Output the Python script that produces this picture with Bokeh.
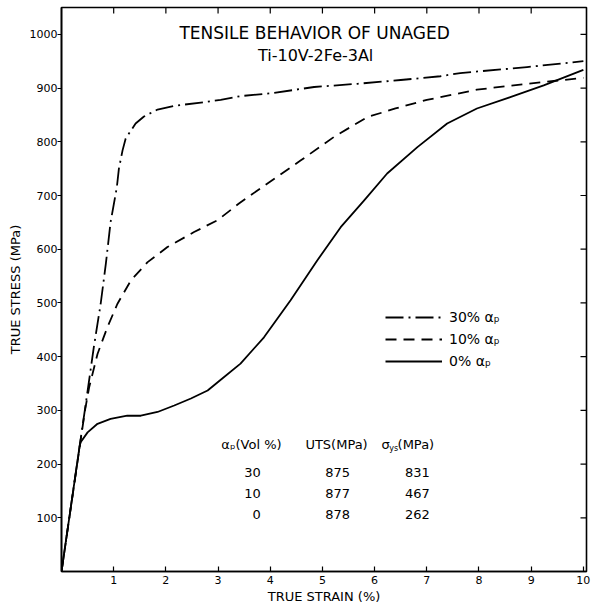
from math import pi
from bokeh.plotting import figure
from bokeh.models import Range1d, FixedTicker, Label, Legend, LegendItem, ColumnDataSource
from bokeh.core.properties import value
from bokeh.embed import file_html
from bokeh.resources import INLINE

# ---- data ----
strain_30 = [0, 0.46, 0.62, 0.75, 0.85, 0.94, 1.06, 1.10, 1.17, 1.23, 1.31, 1.42, 1.58,
             1.84, 2.16, 2.67, 3.05, 3.43, 4.07, 4.84, 5.67, 6.5, 7.26, 7.64, 8.92, 10.0]
stress_30 = [0, 309, 418, 498, 573, 650, 715, 750, 784, 806, 818, 834, 847,
             860, 867, 873, 878, 885, 891, 902, 908, 915, 922, 928, 939, 950]

strain_10 = [0, 0.45, 0.53, 0.69, 0.88, 1.07, 1.33, 1.65, 2.03, 2.54, 2.99, 3.4, 3.94,
             4.58, 5.22, 5.86, 6.4, 7.0, 7.96, 8.92, 10.0]
stress_10 = [0, 300, 343, 405, 455, 498, 542, 576, 604, 632, 654, 685, 722,
             765, 809, 846, 862, 878, 897, 908, 919]

strain_0 = [0, 0.35, 0.37, 0.5, 0.69, 0.94, 1.26, 1.52, 1.84, 2.16, 2.48, 2.8, 3.04,
            3.43, 3.88, 4.39, 4.9, 5.35, 5.8, 6.24, 6.82, 7.39, 7.96, 8.6, 9.24, 10.0]
stress_0 = [0, 235, 241, 259, 275, 284, 290, 290, 297, 309, 322, 337, 356,
            387, 436, 505, 579, 641, 691, 741, 790, 834, 862, 883, 905, 934]

series_labels = ["30% αₚ", "10% αₚ", "0% αₚ"]

x_ticks = [1, 2, 3, 4, 5, 6, 7, 8, 9, 10]
y_ticks = [100, 200, 300, 400, 500, 600, 700, 800, 900, 1000]

alpha_vol = [30, 10, 0]
uts = [875, 877, 878]
sigma_ys = [831, 467, 262]

FONT = "DejaVu Sans"
X_END = 10.06
Y_END = 1050

p = figure(width=593, height=606, output_backend="svg", toolbar_location=None,
           x_range=Range1d(0, X_END), y_range=Range1d(0, Y_END),
           min_border_left=61, min_border_right=7, min_border_top=7, min_border_bottom=35)
p.xgrid.visible = False
p.ygrid.visible = False
p.outline_line_color = "black"
p.outline_line_width = 1.6
p.background_fill_color = "white"
p.border_fill_color = "white"

# axes
p.xaxis.ticker = FixedTicker(ticks=x_ticks)
p.xaxis.major_tick_in = 5
p.xaxis.major_tick_out = 0
p.xaxis.minor_tick_line_color = None
p.xaxis.axis_line_width = 1.6
p.xaxis.major_tick_line_width = 1.2
p.xaxis.major_label_text_font = FONT
p.xaxis.major_label_text_font_size = "11px"
p.xaxis.major_label_text_color = "black"
p.xaxis.major_label_standoff = 4
p.xaxis.axis_label = "TRUE STRAIN (%)"
p.xaxis.axis_label_text_font = FONT
p.xaxis.axis_label_text_font_style = "normal"
p.xaxis.axis_label_text_font_size = "13px"
p.xaxis.axis_label_text_color = "black"
p.xaxis.axis_label_standoff = 2

p.yaxis.ticker = FixedTicker(ticks=y_ticks)
p.yaxis.major_tick_in = 0
p.yaxis.major_tick_out = 4
p.yaxis.minor_tick_line_color = None
p.yaxis.axis_line_width = 1.6
p.yaxis.major_tick_line_width = 1.2
p.yaxis.major_label_text_font = FONT
p.yaxis.major_label_text_font_size = "11px"
p.yaxis.major_label_text_color = "black"
p.yaxis.major_label_standoff = 0
p.yaxis.axis_label = "TRUE STRESS (MPa)"
p.yaxis.axis_label_text_font = FONT
p.yaxis.axis_label_text_font_style = "normal"
p.yaxis.axis_label_text_font_size = "13px"
p.yaxis.axis_label_text_color = "black"
p.yaxis.axis_label_standoff = 4

# inner ticks on the top and right frame edges
p.ray(x=[X_END] * len(y_ticks), y=y_ticks, length=6, length_units="screen",
      angle=pi, line_color="black", line_width=1.2)
p.ray(x=x_ticks[:-1], y=[Y_END] * (len(x_ticks) - 1), length=6, length_units="screen",
      angle=-pi / 2, line_color="black", line_width=1.2)

# curves
r30 = p.line(strain_30, stress_30, line_color="black", line_width=1.8, line_dash="18 5 2 5",
             line_join="round")
r10 = p.line(strain_10, stress_10, line_color="black", line_width=1.8, line_dash="11 7",
             line_join="round")
r0 = p.line(strain_0, stress_0, line_color="black", line_width=1.8, line_join="round")

legend = Legend(items=[LegendItem(label=series_labels[0], renderers=[r30]),
                       LegendItem(label=series_labels[1], renderers=[r10]),
                       LegendItem(label=series_labels[2], renderers=[r0])],
                location=(324, 200), margin=0, padding=0, spacing=2,
                glyph_width=57, glyph_height=20, label_height=20, label_standoff=7,
                label_text_font=FONT, label_text_font_size="14px", label_text_color="black",
                border_line_color=None, background_fill_alpha=0)
p.add_layout(legend, "center")

# title
p.add_layout(Label(x=4.85, y=1003, text="TENSILE BEHAVIOR OF UNAGED", text_align="center",
                   text_baseline="middle", text_font=FONT, text_font_size="17px",
                   text_color="black"))
p.add_layout(Label(x=4.87, y=960, text="Ti-10V-2Fe-3Al", text_align="center",
                   text_baseline="middle", text_font=FONT, text_font_size="16px",
                   text_color="black"))

# table
p.add_layout(Label(x=3.64, y=237, text="αₚ(Vol %)", text_align="center", text_baseline="middle",
                   text_font=FONT, text_font_size="13px", text_color="black"))
p.add_layout(Label(x=5.27, y=237, text="UTS(MPa)", text_align="center", text_baseline="middle",
                   text_font=FONT, text_font_size="13px", text_color="black"))
p.add_layout(Label(x=6.13, y=237, text="σ", text_align="left", text_baseline="middle",
                   text_font=FONT, text_font_size="13px", text_color="black"))
p.add_layout(Label(x=6.28, y=229, text="ys", text_align="left", text_baseline="middle",
                   text_font=FONT, text_font_size="8px", text_color="black"))
p.add_layout(Label(x=6.44, y=237, text="(MPa)", text_align="left", text_baseline="middle",
                   text_font=FONT, text_font_size="13px", text_color="black"))

row_y = [184, 145, 106]
src = ColumnDataSource(dict(
    y=row_y,
    c1=[str(v) for v in alpha_vol],
    c2=[str(v) for v in uts],
    c3=[str(v) for v in sigma_ys],
    x1=[3.82] * 3, x2=[5.29] * 3, x3=[6.82] * 3,
))
p.text(x="x1", y="y", text="c1", source=src, text_align="right", text_baseline="middle",
       text_font=value(FONT), text_font_size="13px", text_color="black")
p.text(x="x2", y="y", text="c2", source=src, text_align="center", text_baseline="middle",
       text_font=value(FONT), text_font_size="13px", text_color="black")
p.text(x="x3", y="y", text="c3", source=src, text_align="center", text_baseline="middle",
       text_font=value(FONT), text_font_size="13px", text_color="black")

open("out.html", "w").write(file_html(p, INLINE))
